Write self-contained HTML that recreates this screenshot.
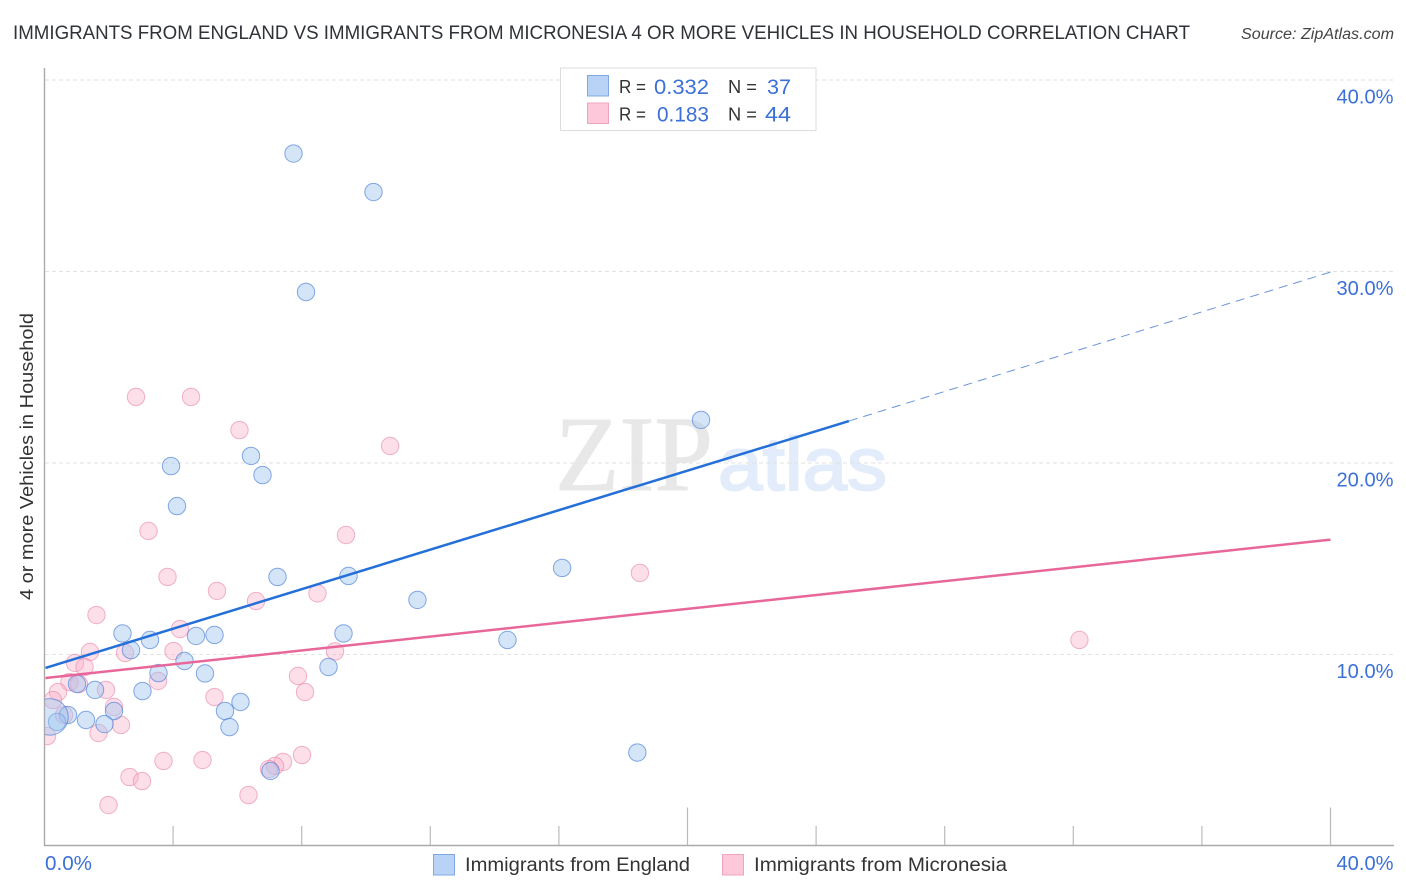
<!DOCTYPE html>
<html lang="en">
<head>
<meta charset="utf-8">
<title>Immigrants from England vs Immigrants from Micronesia correlation chart</title>
<style>
html,body{margin:0;padding:0;background:#fff;width:1406px;height:892px;overflow:hidden}
svg{display:block;font-family:"Liberation Sans",sans-serif}
</style>
</head>
<body>
<svg id="chart" xmlns="http://www.w3.org/2000/svg" width="1406" height="892" viewBox="0 0 1406 892">
  <defs>
    <clipPath id="plot-clip"><rect x="45" y="60" width="1350" height="785"/></clipPath>
  </defs>
  <rect x="0" y="0" width="1406" height="892" fill="#ffffff"/>
  <text x="13" y="39" font-size="19.5" fill="#2f3237" textLength="1177" lengthAdjust="spacingAndGlyphs">IMMIGRANTS FROM ENGLAND VS IMMIGRANTS FROM MICRONESIA 4 OR MORE VEHICLES IN HOUSEHOLD CORRELATION CHART</text>
  <text x="1241" y="39" font-size="15.5" font-style="italic" fill="#444" textLength="153" lengthAdjust="spacingAndGlyphs">Source: ZipAtlas.com</text>

  <g>
    <text x="555" y="490" font-family="'Liberation Serif',serif" font-size="107" fill="#e8e8e8" stroke="#e8e8e8" stroke-width="1" textLength="158" lengthAdjust="spacingAndGlyphs">ZIP</text>
    <text x="718" y="490" font-family="'Liberation Sans',sans-serif" font-size="75" fill="#e2ecfa" stroke="#e2ecfa" stroke-width="2" textLength="169" lengthAdjust="spacingAndGlyphs">atlas</text>
  </g>

  <g id="grid"></g>
  <g id="axes"></g>
  <g id="points-micronesia" clip-path="url(#plot-clip)"></g>
  <g id="points-england" clip-path="url(#plot-clip)"></g>
  <g id="trends"></g>
  <g id="tick-labels"></g>

  <text transform="translate(33,456.5) rotate(-90)" text-anchor="middle" font-size="18.5" fill="#333" textLength="287" lengthAdjust="spacingAndGlyphs">4 or more Vehicles in Household</text>

  <g>
    <rect x="560.5" y="68" width="255.5" height="62.5" fill="#ffffff" stroke="#dcdcdc" stroke-width="1"/>
    <rect x="587.5" y="75.5" width="21" height="20.5" fill="#b9d3f6" stroke="#7fa7e6" stroke-width="1"/>
    <rect x="587.5" y="103" width="21" height="20.5" fill="#fcc8da" stroke="#f0a3bd" stroke-width="1"/>
    <text x="619" y="93" font-size="18.5" fill="#333" textLength="27" lengthAdjust="spacingAndGlyphs">R =</text>
    <text x="654" y="94" font-size="21" fill="#3b70d6" textLength="55" lengthAdjust="spacingAndGlyphs">0.332</text>
    <text x="728" y="93" font-size="18.5" fill="#333" textLength="29" lengthAdjust="spacingAndGlyphs">N =</text>
    <text x="767" y="94" font-size="21" fill="#3b70d6" textLength="24" lengthAdjust="spacingAndGlyphs">37</text>
    <text x="619" y="120.5" font-size="18.5" fill="#333" textLength="27" lengthAdjust="spacingAndGlyphs">R =</text>
    <text x="657" y="121.5" font-size="21" fill="#3b70d6" textLength="52" lengthAdjust="spacingAndGlyphs">0.183</text>
    <text x="728" y="120.5" font-size="18.5" fill="#333" textLength="29" lengthAdjust="spacingAndGlyphs">N =</text>
    <text x="765" y="121.5" font-size="21" fill="#3b70d6" textLength="26" lengthAdjust="spacingAndGlyphs">44</text>
  </g>

  <g>
    <rect x="433.5" y="854.5" width="21" height="20.5" fill="#b9d3f6" stroke="#7fa7e6" stroke-width="1"/>
    <text x="465" y="871" font-size="19" fill="#333" textLength="225" lengthAdjust="spacingAndGlyphs">Immigrants from England</text>
    <rect x="722.5" y="854.5" width="21" height="20.5" fill="#fcc8da" stroke="#f0a3bd" stroke-width="1"/>
    <text x="754" y="871" font-size="19" fill="#333" textLength="253" lengthAdjust="spacingAndGlyphs">Immigrants from Micronesia</text>
  </g>
</svg>

<script>
// Chart data (percent values)
const englandX = [7.745,10.233,8.134,20.42,6.423,3.935,6.781,4.121,16.10,7.247,9.456,11.60,2.426,9.30,3.281,4.712,5.288,14.40,2.69,4.355,8.834,3.546,4.992,1.571,3.048,1.011,6.096,5.614,2.162,0.731,1.291,1.866,5.754,0.389,18.44,7.03,0.171];
const englandY = [36.16,34.15,28.93,22.25,20.37,19.84,19.37,17.75,14.52,14.05,14.10,12.85,11.10,11.10,10.76,10.97,11.02,10.76,10.23,9.66,9.35,9.03,9.01,8.15,8.09,8.46,7.52,7.05,7.05,6.84,6.58,6.37,6.21,6.48,4.88,3.92,6.74];
const englandWeight = [1,1,1,1,1,1,1,1,1,1,1,1,1,1,1,1,1,1,1,1,1,1,1,1,1,1,1,1,1,1,1,1,1,1,1,1,4.4];
const micronesiaX = [2.846,4.557,6.065,10.75,3.235,9.378,3.826,18.52,5.365,8.491,6.579,1.617,4.215,32.19,1.415,2.504,4.012,9.036,0.949,1.244,7.885,3.53,0.778,1.073,1.913,8.103,0.42,5.288,0.264,2.162,0.607,2.379,1.68,0.078,3.701,4.914,2.644,3.033,8.01,7.418,7.17,6.983,6.345,1.991];
const micronesiaY = [23.45,23.45,21.72,20.89,16.45,16.24,14.05,14.26,13.32,13.19,12.79,12.06,11.33,10.76,10.13,10.08,10.18,10.16,9.56,9.35,8.88,8.62,8.56,8.46,8.15,8.04,8.04,7.78,7.62,7.26,6.84,6.32,5.90,5.74,4.44,4.49,3.60,3.39,4.75,4.39,4.18,4.02,2.66,2.14];
const englandTrendX = [0,25.02];
const englandTrendY = [9.3,22.19];
const englandProjectionX = [25.02,40];
const englandProjectionY = [22.19,29.97];
const micronesiaTrendX = [0,40];
const micronesiaTrendY = [8.77,16.0];
const xTicks = [0,4,8,12,16,20,24,28,32,36,40];
const xMajorTicks = [20,40];
const yGridTicks = [10,20,30,40];
const yTickLabels = ["10.0%","20.0%","30.0%","40.0%"];
const xEdgeTicks = [0,40];
const xEdgeLabels = ["0.0%","40.0%"];

const SVGNS = 'http://www.w3.org/2000/svg';
const xScale = v => 44.5 + v * 32.15;
const yScale = v => 846 - v * 19.15;

const gridG = document.getElementById('grid');
const axesG = document.getElementById('axes');
const labelG = document.getElementById('tick-labels');
const trendG = document.getElementById('trends');
const pointsE = document.getElementById('points-england');
const pointsM = document.getElementById('points-micronesia');

yGridTicks.forEach((t, i) => {
  const line = document.createElementNS(SVGNS, 'line');
  
  
  line.setAttribute('x1', 45);
  line.setAttribute('x2', 1394);
  line.setAttribute('y1', yScale(t));
  line.setAttribute('y2', yScale(t));
  line.setAttribute('stroke', '#e2e2e2');
  line.setAttribute('stroke-width', 1);
  line.setAttribute('stroke-dasharray', '4 3');
  gridG.appendChild(line);

  const label = document.createElementNS(SVGNS, 'text');
  
  
  label.setAttribute('x', 1393.5);
  label.setAttribute('y', yScale(t) + 23.5);
  label.setAttribute('text-anchor', 'end');
  label.setAttribute('font-size', 20);
  label.setAttribute('fill', '#3b70d6');
  label.setAttribute('textLength', 57);
  label.setAttribute('lengthAdjust', 'spacingAndGlyphs');
  label.textContent = yTickLabels[i];
  labelG.appendChild(label);
});

const leftAxis = document.createElementNS(SVGNS, 'line');


leftAxis.setAttribute('x1', 44.5);
leftAxis.setAttribute('x2', 44.5);
leftAxis.setAttribute('y1', 68);
leftAxis.setAttribute('y2', 846);
leftAxis.setAttribute('stroke', '#aaaaaa');
leftAxis.setAttribute('stroke-width', 1.4);
axesG.appendChild(leftAxis);

const bottomAxis = document.createElementNS(SVGNS, 'line');


bottomAxis.setAttribute('x1', 44);
bottomAxis.setAttribute('x2', 1394);
bottomAxis.setAttribute('y1', 845.5);
bottomAxis.setAttribute('y2', 845.5);
bottomAxis.setAttribute('stroke', '#aaaaaa');
bottomAxis.setAttribute('stroke-width', 1.4);
axesG.appendChild(bottomAxis);

xTicks.forEach(t => {
  if (t === 0) return;
  const tick = document.createElementNS(SVGNS, 'line');
  
  
  tick.setAttribute('x1', xScale(t));
  tick.setAttribute('x2', xScale(t));
  tick.setAttribute('y1', xMajorTicks.includes(t) ? 807.5 : 826);
  tick.setAttribute('y2', 845);
  tick.setAttribute('stroke', '#bbbbbb');
  tick.setAttribute('stroke-width', 1.2);
  axesG.appendChild(tick);
});

xEdgeTicks.forEach((t, i) => {
  const label = document.createElementNS(SVGNS, 'text');
  
  
  label.setAttribute('x', i === 0 ? xScale(t) + 0.5 : 1393.5);
  label.setAttribute('y', 870);
  label.setAttribute('text-anchor', i === 0 ? 'start' : 'end');
  label.setAttribute('font-size', 20);
  label.setAttribute('fill', '#3b70d6');
  label.setAttribute('textLength', i === 0 ? 47 : 57);
  label.setAttribute('lengthAdjust', 'spacingAndGlyphs');
  label.textContent = xEdgeLabels[i];
  labelG.appendChild(label);
});

micronesiaX.forEach((x, i) => {
  const c = document.createElementNS(SVGNS, 'circle');
  
  
  c.setAttribute('cx', xScale(x));
  c.setAttribute('cy', yScale(micronesiaY[i]));
  c.setAttribute('r', 8.7);
  c.setAttribute('fill', 'rgba(249,176,202,0.4)');
  c.setAttribute('stroke', 'rgba(232,130,165,0.6)');
  c.setAttribute('stroke-width', 1);
  pointsM.appendChild(c);
});

englandX.forEach((x, i) => {
  const c = document.createElementNS(SVGNS, 'circle');
  
  
  c.setAttribute('cx', xScale(x));
  c.setAttribute('cy', yScale(englandY[i]));
  c.setAttribute('r', 8.7 * Math.sqrt(englandWeight[i]));
  c.setAttribute('fill', 'rgba(160,197,240,0.45)');
  c.setAttribute('stroke', 'rgba(70,125,215,0.65)');
  c.setAttribute('stroke-width', 1);
  pointsE.appendChild(c);
});

const projection = document.createElementNS(SVGNS, 'line');


projection.setAttribute('x1', xScale(englandProjectionX[0]));
projection.setAttribute('y1', yScale(englandProjectionY[0]));
projection.setAttribute('x2', xScale(englandProjectionX[1]));
projection.setAttribute('y2', yScale(englandProjectionY[1]));
projection.setAttribute('stroke', '#6a94dc');
projection.setAttribute('stroke-width', 1);
projection.setAttribute('stroke-dasharray', '9 6');
trendG.appendChild(projection);

const trendPink = document.createElementNS(SVGNS, 'line');


trendPink.setAttribute('x1', xScale(micronesiaTrendX[0]) + 1);
trendPink.setAttribute('y1', yScale(micronesiaTrendY[0]));
trendPink.setAttribute('x2', xScale(micronesiaTrendX[1]));
trendPink.setAttribute('y2', yScale(micronesiaTrendY[1]));
trendPink.setAttribute('stroke', '#e8679a');
trendPink.setAttribute('stroke-width', 2.5);
trendG.appendChild(trendPink);

const trendBlue = document.createElementNS(SVGNS, 'line');


trendBlue.setAttribute('x1', xScale(englandTrendX[0]) + 1);
trendBlue.setAttribute('y1', yScale(englandTrendY[0]));
trendBlue.setAttribute('x2', xScale(englandTrendX[1]));
trendBlue.setAttribute('y2', yScale(englandTrendY[1]));
trendBlue.setAttribute('stroke', '#2470d8');
trendBlue.setAttribute('stroke-width', 2.5);
trendG.appendChild(trendBlue);
</script>
</body>
</html>
